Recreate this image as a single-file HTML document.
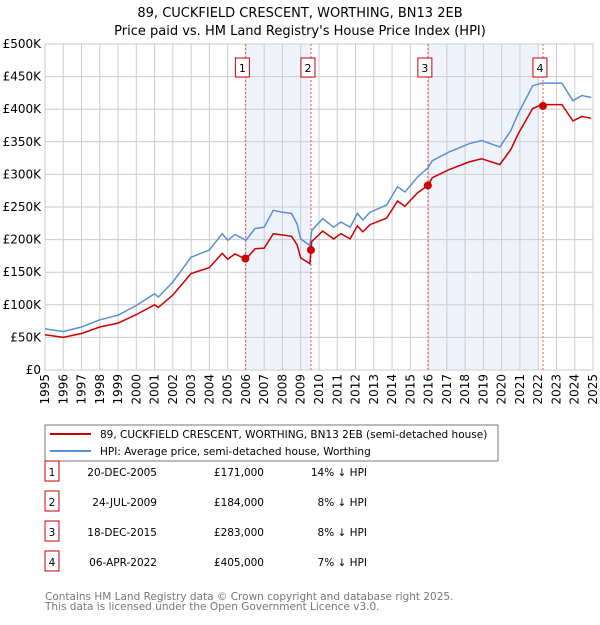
<!DOCTYPE html>
<html><head><meta charset="utf-8"><style>
body{margin:0;background:#fff;font-family:"Liberation Sans","DejaVu Sans",sans-serif}
svg text{font-family:"DejaVu Sans","Liberation Sans",sans-serif}
</style></head><body>
<svg id="chart" width="600" height="620" xmlns="http://www.w3.org/2000/svg">
<text x="300" y="17" text-anchor="middle" font-size="13">89, CUCKFIELD CRESCENT, WORTHING, BN13 2EB</text>
<text x="300" y="35" text-anchor="middle" font-size="13">Price paid vs. HM Land Registry's House Price Index (HPI)</text>
<g id="shade"></g><g id="grid"></g><g id="axes"></g><g id="vlines"></g><g id="series"></g><g id="marks"></g>
<g>
<rect x="45" y="425" width="453" height="36" fill="#fff" stroke="#777"/>
<line x1="50" y1="434" x2="91" y2="434" stroke="#cc0000" stroke-width="2"/>
<text x="100" y="438" font-size="10.5">89, CUCKFIELD CRESCENT, WORTHING, BN13 2EB (semi-detached house)</text>
<line x1="50" y1="451" x2="91" y2="451" stroke="#5b8fd4" stroke-width="2"/>
<text x="100" y="455" font-size="10.5">HPI: Average price, semi-detached house, Worthing</text>
</g>
<g id="table" font-size="10.5"></g>
<text x="45" y="600" font-size="10.5" fill="#777">Contains HM Land Registry data © Crown copyright and database right 2025.</text>
<text x="45" y="610" font-size="10.5" fill="#777">This data is licensed under the Open Government Licence v3.0.</text>
</svg>
<script>
const hpiYears=[1995,1996,1997,1998,1999,2000,2001,2001.2,2002,2003,2004,2004.7,2005,2005.4,2006,2006.5,2007,2007.5,2008,2008.5,2008.8,2009,2009.5,2009.6,2010.2,2010.8,2011.2,2011.7,2012.1,2012.4,2012.8,2013.7,2014.3,2014.7,2015.4,2015.96,2016.2,2017.1,2018.2,2018.9,2019.9,2020.5,2020.9,2021.7,2022.2,2023.3,2023.9,2024.4,2024.9];
const hpiValues=[63,59,66,77,84,99,117,112,135,173,184,209,199,208,199,217,219,245,242,240,224,201,191,214,232,219,227,219,240,230,242,253,281,273,296,310,321,334,347,352,342,367,393,436,440,440,413,421,418];
const priceValues=[54,50,56,66,72,85,100,96,115,148,157,179,170,178,170,186,187,209,207,205,192,172,163,197,213,201,209,201,221,212,223,233,259,251,272,283,295,307,319,324,315,338,362,401,407,407,382,389,386];
const saleLabels=["1","2","3","4"];
const saleYears=[2005.97,2009.56,2015.96,2022.26];
const salePrices=[171,184,283,405];
const saleDates=["20-DEC-2005","24-JUL-2009","18-DEC-2015","06-APR-2022"];
const salePriceText=["£171,000","£184,000","£283,000","£405,000"];
const saleHpiText=["14% ↓ HPI","8% ↓ HPI","8% ↓ HPI","7% ↓ HPI"];
const shadeRanges=[[2005.97,2009.56],[2015.96,2022.0]];
const yTicks=[0,50,100,150,200,250,300,350,400,450,500];
const yTickLabels=["£0","£50K","£100K","£150K","£200K","£250K","£300K","£350K","£400K","£450K","£500K"];
const xTickYears=[1995,1996,1997,1998,1999,2000,2001,2002,2003,2004,2005,2006,2007,2008,2009,2010,2011,2012,2013,2014,2015,2016,2017,2018,2019,2020,2021,2022,2023,2024,2025];

const NS="http://www.w3.org/2000/svg";
const X0=45,X1=593,Y0=370,Y1=44;
const xs=y=>X0+(y-1995)/30*(X1-X0);
const ys=v=>Y0-v/500*(Y0-Y1);
function mk(tag,attrs,parent){const e=document.createElementNS(NS,tag);for(const k in attrs)e.setAttribute(k,attrs[k]);document.getElementById(parent).appendChild(e);return e;}

shadeRanges.forEach(r=>{const e=mk('rect',{x:xs(r[0]),y:Y1,width:xs(r[1])-xs(r[0]),height:Y0-Y1,fill:'#eef3fc'},'shade');

});

yTicks.forEach((t,i)=>{const l=mk('line',{x1:X0,x2:X1,y1:ys(t),y2:ys(t),stroke:'#cccccc'},'grid');


const tx=mk('text',{x:X0-4,y:ys(t)+4,'text-anchor':'end','font-size':12},'axes');tx.textContent=yTickLabels[i];

});
xTickYears.forEach(yr=>{const l=mk('line',{x1:xs(yr),x2:xs(yr),y1:Y1,y2:Y0,stroke:'#cccccc'},'grid');


const tx=mk('text',{x:0,y:0,'text-anchor':'end','font-size':12,transform:`translate(${xs(yr)+4},${Y0+4}) rotate(-90)`},'axes');tx.textContent=yr;

});
const bd=mk('rect',{x:X0,y:Y1,width:X1-X0,height:Y0-Y1,fill:'none',stroke:'#cccccc'},'axes');



function path(vals){return hpiYears.map((y,i)=>(i?'L':'M')+xs(y).toFixed(1)+','+ys(vals[i]).toFixed(1)).join(' ');}
const hp=mk('path',{d:path(hpiValues),fill:'none',stroke:'#5b8fd4','stroke-width':1.5},'series');


const pp=mk('path',{d:path(priceValues),fill:'none',stroke:'#cc0000','stroke-width':1.5},'series');



saleYears.forEach((yr,i)=>{
const l=mk('line',{x1:xs(yr),x2:xs(yr),y1:Y1,y2:Y0,stroke:'#ee5555','stroke-dasharray':'2,2'},'vlines');


const c=mk('circle',{cx:xs(yr),cy:ys(salePrices[i]),r:4,fill:'#cc0000'},'marks');


const b=mk('rect',{x:xs(yr)-10,y:58,width:14,height:19,fill:'#fff',stroke:'#cc0000'},'marks');


const t=mk('text',{x:xs(yr)-3,y:72,'text-anchor':'middle','font-size':11},'marks');t.textContent=saleLabels[i];


const ry=483+i*30;
const tb=mk('rect',{x:45,y:ry-22,width:14,height:20,fill:'#fff',stroke:'#cc0000'},'table');


const tn=mk('text',{x:52,y:ry-7,'text-anchor':'middle'},'table');tn.textContent=saleLabels[i];


const td=mk('text',{x:157,y:ry-7,'text-anchor':'end'},'table');td.textContent=saleDates[i];


const tp=mk('text',{x:264,y:ry-7,'text-anchor':'end'},'table');tp.textContent=salePriceText[i];


const th=mk('text',{x:367,y:ry-7,'text-anchor':'end'},'table');th.textContent=saleHpiText[i];


});
</script>
</body></html>
